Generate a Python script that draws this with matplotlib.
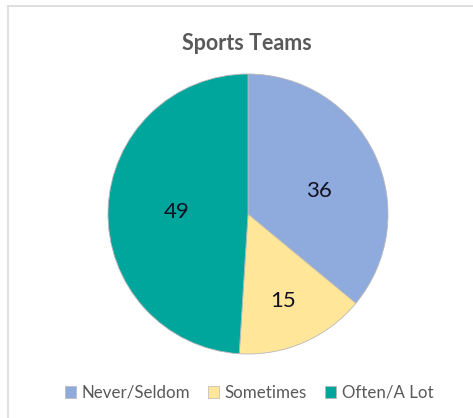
import numpy as np
import matplotlib
matplotlib.use("Agg")
import matplotlib.pyplot as plt
from matplotlib.lines import Line2D

plt.rcParams['font.family'] = ['Lato', 'DejaVu Sans']

categories = ["Never/Seldom", "Sometimes", "Often/A Lot"]
counts = [36, 15, 49]
colors = ["#8FAADC", "#FFE699", "#00A59C"]
title = "Sports Teams"

fig = plt.figure(figsize=(4.73, 4.18), dpi=100)

# thin frame along top and left edges
fig.add_artist(Line2D([8 / 473, 1], [1 - 6 / 418, 1 - 6 / 418], color="#D9D9D9", lw=1.2))
fig.add_artist(Line2D([8 / 473, 8 / 473], [0, 1 - 6 / 418], color="#D9D9D9", lw=1.2))

cx, cy, r = 248, 214, 140
ax = fig.add_axes([(cx - r) / 473, (418 - cy - r) / 418, 2 * r / 473, 2 * r / 418])
wedges, _ = ax.pie(counts, colors=colors, startangle=90, counterclock=False,
                   wedgeprops=dict(edgecolor="#B8B8B8", linewidth=0.6))
ax.set_xlim(-1, 1)
ax.set_ylim(-1, 1)
ax.set_aspect("auto")
ax.axis("off")

# value labels inside each slice
label_pos = [(0.53, 18), (0.67, -68), (0.51, 178)]
for (rad, ang), val in zip(label_pos, counts):
    t = np.deg2rad(ang)
    ax.text(rad * np.cos(t), rad * np.sin(t), str(val), ha="center", va="center",
            fontsize=16, color="#111122")

fig.text(247 / 473, 1 - 44 / 418, title, ha="center", va="center",
         fontsize=15.5, fontweight="bold", color="#595959")

handles = [plt.Rectangle((0, 0), 1, 1, facecolor=c, edgecolor="#B8B8B8", lw=0.5) for c in colors]
fig.legend(handles, categories, loc="center", bbox_to_anchor=(249 / 473, 1 - 393 / 418),
           ncol=3, frameon=False, fontsize=12.2, handlelength=0.65, handleheight=0.65,
           handletextpad=0.35, columnspacing=1.05, labelcolor="#595959")

fig.savefig("out.png", dpi=100)
